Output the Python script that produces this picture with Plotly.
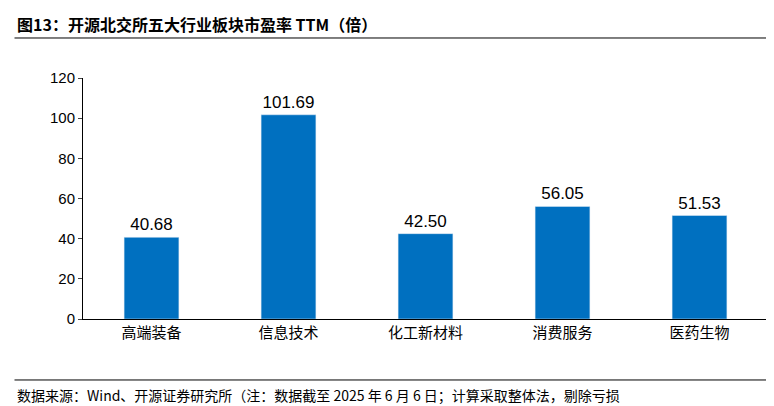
import plotly.graph_objects as go

categories = ["高端装备", "信息技术", "化工新材料", "消费服务", "医药生物"]
values = [40.68, 101.69, 42.50, 56.05, 51.53]
labels = ["40.68", "101.69", "42.50", "56.05", "51.53"]

fig = go.Figure(go.Bar(
    x=categories, y=values, text=labels, textposition="outside",
    marker_color="#0070C0", width=0.4,
    textfont=dict(size=17, color="black", family="Liberation Sans"),
    cliponaxis=False,
))
fig.update_layout(
    width=774, height=406, plot_bgcolor="white", paper_bgcolor="white",
    margin=dict(l=75, r=14, t=70, b=95, autoexpand=False), showlegend=False,
    font=dict(family="Noto Sans CJK SC", color="black"),
    xaxis=dict(showline=True, linecolor="black", linewidth=1, ticks="",
               tickfont=dict(size=15)),
    yaxis=dict(range=[0, 120], dtick=20, showgrid=False, showline=True,
               linecolor="black", ticks="outside", ticklen=4,
               tickfont=dict(size=15, family="Liberation Sans")),
    annotations=[
        dict(text="<b>图13：开源北交所五大行业板块市盈率 TTM（倍）</b>", xref="paper", yref="paper",
             x=-0.1, y=1.0, yshift=54, xanchor="left", yanchor="middle", showarrow=False,
             font=dict(size=16, family="Noto Sans CJK SC, Liberation Serif")),
        dict(text="数据来源：Wind、开源证券研究所（注：数据截至 2025 年 6 月 6 日；计算采取整体法，剔除亏损",
             xref="paper", yref="paper", x=-0.1, y=0, yshift=-76, xanchor="left", yanchor="middle",
             showarrow=False, font=dict(size=14, family="Noto Sans CJK SC, Liberation Serif")),
    ],
    shapes=[
        dict(type="line", xref="paper", yref="paper", x0=-0.1, x1=1.02, y0=1.166, y1=1.166,
             line=dict(color="black", width=1)),
        dict(type="line", xref="paper", yref="paper", x0=-0.1, x1=1.02, y0=-0.253, y1=-0.253,
             line=dict(color="black", width=1)),
    ],
)
fig.write_html("out.html")
